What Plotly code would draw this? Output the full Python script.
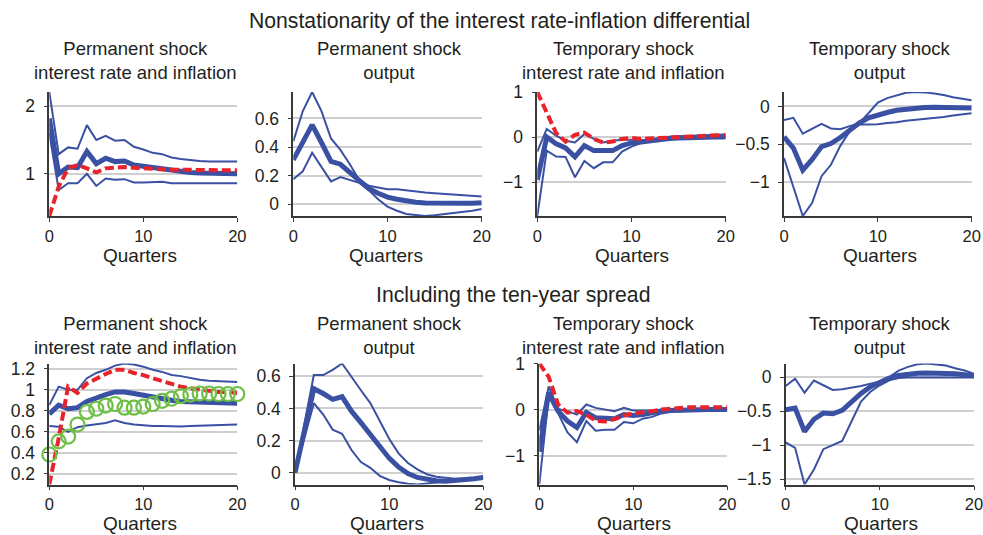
import plotly.graph_objects as go

# Impulse responses over 0..20 quarters
quarters = list(range(21))

# --- Nonstationarity of the interest rate-inflation differential ---
p1_upper = [2.21, 1.29, 1.39, 1.37, 1.72, 1.50, 1.56, 1.49, 1.50, 1.40, 1.36,
            1.31, 1.29, 1.24, 1.22, 1.20, 1.19, 1.18, 1.18, 1.18, 1.18]
p1_mid = [1.82, 1.00, 1.10, 1.09, 1.33, 1.15, 1.23, 1.18, 1.19, 1.13, 1.11,
          1.09, 1.07, 1.05, 1.04, 1.02, 1.01, 1.01, 1.00, 1.00, 1.00]
p1_lower = [1.60, 0.76, 0.86, 0.86, 1.00, 0.82, 0.93, 0.91, 0.92, 0.87, 0.87,
            0.87, 0.88, 0.86, 0.86, 0.86, 0.86, 0.86, 0.86, 0.86, 0.86]
p1_red = [0.375, 0.81, 1.08, 1.13, 1.08, 1.02, 1.08, 1.09, 1.10, 1.09, 1.08,
          1.07, 1.07, 1.06, 1.06, 1.06, 1.05, 1.05, 1.05, 1.05, 1.05]

p2_upper = [0.44, 0.65, 0.785, 0.65, 0.46, 0.38, 0.28, 0.17, 0.13, 0.12, 0.105,
            0.105, 0.096, 0.089, 0.082, 0.077, 0.073, 0.068, 0.063, 0.059, 0.054]
p2_mid = [0.31, 0.44, 0.555, 0.43, 0.30, 0.28, 0.22, 0.16, 0.11, 0.077, 0.05,
          0.035, 0.023, 0.014, 0.009, 0.007, 0.006, 0.006, 0.007, 0.008, 0.01]
p2_lower = [0.175, 0.23, 0.36, 0.26, 0.16, 0.19, 0.17, 0.15, 0.10, 0.035, -0.016,
            -0.045, -0.068, -0.077, -0.082, -0.077, -0.07, -0.063, -0.054, -0.045, -0.033]

p3_upper = [-0.32, 0.18, 0.03, -0.08, -0.12, 0.07, -0.04, -0.12, -0.08, -0.06, -0.06,
            -0.07, -0.06, -0.02, 0.01, 0.02, 0.03, 0.04, 0.05, 0.06, 0.06]
p3_mid = [-0.95, 0.00, -0.15, -0.24, -0.44, -0.19, -0.30, -0.30, -0.30, -0.19, -0.13,
          -0.11, -0.08, -0.04, -0.03, -0.02, -0.01, 0.00, 0.00, 0.00, 0.00]
p3_lower = [-1.75, -0.30, -0.43, -0.44, -0.89, -0.53, -0.69, -0.56, -0.56, -0.32, -0.21,
            -0.13, -0.10, -0.04, -0.03, -0.02, -0.02, -0.01, -0.01, 0.00, 0.00]
p3_red = [1.00, 0.57, 0.09, -0.10, 0.05, 0.10, -0.04, -0.12, -0.10, -0.04, -0.02,
          -0.04, -0.03, 0.00, 0.01, 0.02, 0.03, 0.04, 0.04, 0.04, 0.04]

p4_upper = [-0.18, -0.15, -0.36, -0.29, -0.23, -0.29, -0.30, -0.26, -0.22, -0.09, 0.05,
            0.11, 0.15, 0.18, 0.19, 0.185, 0.17, 0.15, 0.12, 0.10, 0.08]
p4_mid = [-0.40, -0.55, -0.84, -0.70, -0.53, -0.49, -0.41, -0.31, -0.22, -0.15, -0.11,
          -0.08, -0.05, -0.035, -0.02, -0.013, -0.01, -0.01, -0.01, -0.015, -0.02]
p4_lower = [-0.68, -1.06, -1.445, -1.27, -0.92, -0.77, -0.52, -0.33, -0.24, -0.24, -0.235,
            -0.22, -0.21, -0.19, -0.18, -0.17, -0.15, -0.14, -0.12, -0.105, -0.09]

# --- Including the ten-year spread ---
p5_upper = [0.854, 1.03, 1.00, 1.00, 1.11, 1.16, 1.19, 1.23, 1.25, 1.24, 1.22,
            1.19, 1.17, 1.14, 1.13, 1.11, 1.095, 1.085, 1.08, 1.076, 1.073]
p5_mid = [0.77, 0.854, 0.82, 0.83, 0.89, 0.925, 0.955, 0.98, 0.98, 0.965, 0.947,
          0.93, 0.915, 0.90, 0.89, 0.885, 0.88, 0.875, 0.873, 0.872, 0.872]
p5_lower = [0.657, 0.65, 0.60, 0.645, 0.66, 0.67, 0.685, 0.71, 0.685, 0.67, 0.66,
            0.657, 0.655, 0.652, 0.652, 0.655, 0.658, 0.66, 0.665, 0.668, 0.67]
p5_red = [0.10, 0.54, 1.03, 0.97, 1.06, 1.11, 1.15, 1.19, 1.19, 1.16, 1.14,
          1.11, 1.085, 1.06, 1.03, 1.015, 1.00, 0.99, 0.98, 0.98, 0.97]
p5_spread = [0.385, 0.51, 0.555, 0.67, 0.79, 0.82, 0.85, 0.865, 0.83, 0.83, 0.84,
             0.865, 0.895, 0.915, 0.94, 0.955, 0.965, 0.965, 0.96, 0.96, 0.96]

p6_upper = [0.0, 0.305, 0.608, 0.608, 0.64, 0.68, 0.594, 0.513, 0.433, 0.322, 0.211,
            0.12, 0.06, 0.02, -0.01, -0.026, -0.034, -0.038, -0.038, -0.034, -0.03]
p6_mid = [0.0, 0.26, 0.523, 0.493, 0.457, 0.473, 0.383, 0.312, 0.242, 0.161, 0.09,
          0.034, -0.006, -0.03, -0.042, -0.05, -0.054, -0.05, -0.044, -0.038, -0.03]
p6_lower = [0.0, 0.22, 0.433, 0.362, 0.268, 0.242, 0.141, 0.066, 0.03, -0.02, -0.046,
            -0.06, -0.07, -0.074, -0.07, -0.062, -0.054, -0.048, -0.042, -0.038, -0.034]

p7_upper = [-0.46, 0.50, 0.01, -0.035, -0.11, 0.11, 0.035, 0.0, -0.035, 0.035, -0.02,
            -0.02, -0.02, 0.0, 0.0, 0.0, 0.01, 0.01, 0.01, 0.01, 0.01]
p7_mid = [-0.92, 0.37, -0.035, -0.25, -0.39, -0.06, -0.18, -0.20, -0.20, -0.11, -0.13,
          -0.11, -0.07, -0.035, -0.02, -0.01, 0.0, 0.0, 0.0, 0.0, 0.0]
p7_lower = [-1.63, 0.28, -0.085, -0.50, -0.71, -0.25, -0.46, -0.44, -0.44, -0.27, -0.30,
            -0.20, -0.16, -0.085, -0.05, -0.035, -0.02, -0.015, -0.01, -0.01, -0.01]
p7_red = [1.00, 0.71, 0.11, -0.07, -0.035, -0.11, -0.25, -0.26, -0.21, -0.13, -0.085,
          -0.07, -0.035, 0.0, 0.02, 0.035, 0.05, 0.05, 0.05, 0.05, 0.05]

p8_upper = [-0.13, -0.025, -0.23, -0.05, -0.12, -0.19, -0.18, -0.16, -0.13, -0.096, -0.07,
            0.0, 0.096, 0.15, 0.19, 0.20, 0.19, 0.17, 0.13, 0.096, 0.05]
p8_mid = [-0.48, -0.455, -0.80, -0.62, -0.53, -0.54, -0.49, -0.36, -0.24, -0.14, -0.07,
          -0.014, 0.024, 0.048, 0.057, 0.062, 0.062, 0.057, 0.048, 0.033, 0.02]
p8_lower = [-0.96, -1.04, -1.58, -1.36, -1.06, -1.00, -0.94, -0.65, -0.36, -0.215, -0.12,
            -0.048, -0.014, -0.005, -0.005, -0.005, -0.005, -0.005, -0.005, -0.005, -0.005]

x_ticks = [0, 10, 20]
y_ticks = [
    [1, 2],
    [0, 0.2, 0.4, 0.6],
    [-1, 0, 1],
    [-1, -0.5, 0],
    [0.2, 0.4, 0.6, 0.8, 1, 1.2],
    [0, 0.2, 0.4, 0.6],
    [-1, 0, 1],
    [-1.5, -1, -0.5, 0],
]

row_titles = ["Nonstationarity of the interest rate-inflation differential",
              "Including the ten-year spread"]
panel_titles = ["Permanent shock<br>interest rate and inflation",
                "Permanent shock<br>output",
                "Temporary shock<br>interest rate and inflation",
                "Temporary shock<br>output"]
x_title = "Quarters"

panels = [
    dict(bands=[p1_upper, p1_lower], mid=p1_mid, red=p1_red),
    dict(bands=[p2_upper, p2_lower], mid=p2_mid),
    dict(bands=[p3_upper, p3_lower], mid=p3_mid, red=p3_red),
    dict(bands=[p4_upper, p4_lower], mid=p4_mid),
    dict(bands=[p5_upper, p5_lower], mid=p5_mid, red=p5_red, circles=p5_spread),
    dict(bands=[p6_upper, p6_lower], mid=p6_mid),
    dict(bands=[p7_upper, p7_lower], mid=p7_mid, red=p7_red),
    dict(bands=[p8_upper, p8_lower], mid=p8_mid),
]

# ---- styling / layout ----
W, H = 983, 535
FONT = "Liberation Sans, Arial, Helvetica, sans-serif"
TEXT = "#231f20"
BLUE = "#3a51a3"
RED = "#e8232a"
GREEN = "#6dbf45"
GRID = "#cfcfcf"
AXIS = "#3a3a3a"


def fx(px):
    return px / W


def fy(py):
    return 1 - py / H


# plot-area pixel boxes (left, right, top, bottom)
boxes = [
    (49.3, 237.3, 92, 216), (293.3, 481.7, 92, 216),
    (537.3, 725.7, 92, 216), (784, 971.7, 92, 216),
    (49.3, 237.3, 363.5, 484.5), (295, 483.3, 363.5, 484.5),
    (539.3, 727.3, 363.5, 484.5), (785.7, 974, 363.5, 484.5),
]
title_cx = [135.5, 389, 623.5, 879.7]
quarters_cx = [140, 386, 632, 880, 140, 386.5, 634, 881]

fig = go.Figure()
layout = dict(
    width=W, height=H,
    margin=dict(l=0, r=0, t=0, b=0),
    paper_bgcolor="white", plot_bgcolor="white",
    showlegend=False,
    font=dict(family=FONT, color=TEXT, size=18),
)
annotations = []

for i, p in enumerate(panels):
    k = i + 1
    xa, ya = f"x{k}", f"y{k}"
    for band in p["bands"]:
        fig.add_trace(go.Scatter(x=quarters, y=band, mode="lines", xaxis=xa, yaxis=ya,
                                 line=dict(color=BLUE, width=2)))
    fig.add_trace(go.Scatter(x=quarters, y=p["mid"], mode="lines", xaxis=xa, yaxis=ya,
                             line=dict(color=BLUE, width=5)))
    if "red" in p:
        fig.add_trace(go.Scatter(x=quarters, y=p["red"], mode="lines", xaxis=xa, yaxis=ya,
                                 line=dict(color=RED, width=4, dash="9px,4px")))
    if "circles" in p:
        fig.add_trace(go.Scatter(x=quarters, y=p["circles"], mode="markers", xaxis=xa,
                                 yaxis=ya, cliponaxis=False,
                                 marker=dict(symbol="circle-open", size=14, color=GREEN,
                                             line=dict(color=GREEN, width=2.2))))

    series = list(p["bands"]) + [p["mid"]] + ([p["red"]] if "red" in p else [])
    lo = min(min(s) for s in series)
    hi = max(max(s) for s in series)

    l, r, t, b = boxes[i]
    layout[f"xaxis{k}"] = dict(
        domain=[fx(l), fx(r)], anchor=ya, range=[0, 20],
        tickvals=x_ticks, ticks="outside", ticklen=4, tickcolor=AXIS, tickwidth=1.2,
        showline=True, linecolor=AXIS, linewidth=1.5, showgrid=False, zeroline=False,
        tickfont=dict(size=16.5, color=TEXT), ticklabelstandoff=0, automargin=False,
        ticklabeloverflow="allow",
    )
    layout[f"yaxis{k}"] = dict(
        domain=[fy(b), fy(t)], anchor=xa, range=[lo, hi],
        tickvals=y_ticks[i], ticks="outside", ticklen=4, tickcolor=AXIS, tickwidth=1.2,
        showline=True, linecolor=AXIS, linewidth=1.5, showgrid=True, gridcolor=GRID,
        gridwidth=1.5, zeroline=False,
        tickfont=dict(size=17.5, color=TEXT), ticklabelstandoff=5, automargin=False,
        ticklabeloverflow="allow",
    )

    row = i // 4
    col = i % 4
    # panel title (two lines) and x-axis label
    annotations.append(dict(
        text=panel_titles[col], x=fx(title_cx[col]), y=fy(60 if row == 0 else 335),
        xref="paper", yref="paper", xanchor="center", yanchor="middle",
        showarrow=False, font=dict(size=18.5, color=TEXT)))
    annotations.append(dict(
        text=x_title, x=fx(quarters_cx[i]), y=fy(256 if row == 0 else 523.8),
        xref="paper", yref="paper", xanchor="center", yanchor="middle",
        showarrow=False, font=dict(size=19, color=TEXT)))

annotations.append(dict(text=row_titles[0], x=fx(499), y=fy(21), xref="paper",
                        yref="paper", xanchor="center", yanchor="middle",
                        showarrow=False, font=dict(size=21.2, color=TEXT)))
annotations.append(dict(text=row_titles[1], x=fx(513), y=fy(295), xref="paper",
                        yref="paper", xanchor="center", yanchor="middle",
                        showarrow=False, font=dict(size=21.2, color=TEXT)))

layout["annotations"] = annotations
fig.update_layout(**layout)
fig.write_html("out.html")
